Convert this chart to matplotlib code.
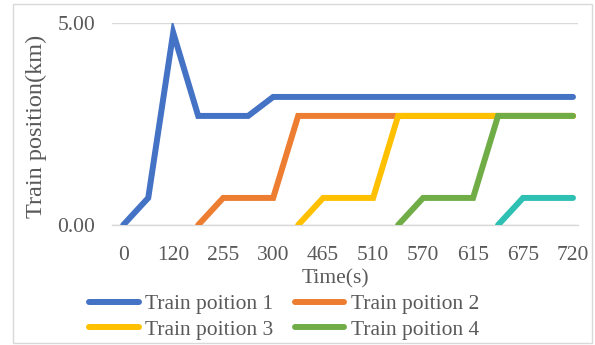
"""Train position over time, redrawn as an Excel-style category line chart."""

import matplotlib
matplotlib.use('Agg')
import matplotlib.pyplot as plt
from matplotlib.patches import Rectangle
import numpy as np

# 19 categories; only every second one carries a visible label
time_labels = ['0', '120', '255', '300', '465', '510', '570', '615', '675', '720']

train1 = [0, 0.67, 4.76, 2.70, 2.70, 2.70, 3.17, 3.17, 3.17, 3.17,
          3.17, 3.17, 3.17, 3.17, 3.17, 3.17, 3.17, 3.17, 3.17]
train2 = [None, None, None, 0, 0.67, 0.67, 0.67, 2.70, 2.70, 2.70,
          2.70, 2.70, 2.70, 2.70, 2.70, 2.70, 2.70, 2.70, 2.70]
train3 = [None, None, None, None, None, None, None, 0, 0.67, 0.67,
          0.67, 2.70, 2.70, 2.70, 2.70, 2.70, 2.70, 2.70, 2.70]
train4 = [None, None, None, None, None, None, None, None, None, None,
          None, 0, 0.67, 0.67, 0.67, 2.70, 2.70, 2.70, 2.70]
train5 = [None, None, None, None, None, None, None, None, None, None,
          None, None, None, None, None, 0, 0.67, 0.67, 0.67]

series_names = ['Train poition 1', 'Train poition 2',
                'Train poition 3', 'Train poition 4']
colors = ['#4472C4', '#ED7D31', '#FFC000', '#70AD47', '#2EC0B2']

TEXT = '#595959'
plt.rcParams['font.family'] = ['Liberation Serif', 'DejaVu Serif']
plt.rcParams['font.size'] = 15.5

fig = plt.figure(figsize=(5.95, 3.45), dpi=100)
ax = fig.add_axes([112 / 595, 1 - 225 / 345, 466 / 595, 202 / 345])

x = np.arange(len(train1))
all_series = [train1, train2, train3, train4, train5]
lines = []
for i, values in enumerate(all_series):
    y = np.array([np.nan if v is None else v for v in values], dtype=float)
    line, = ax.plot(x, y, color=colors[i], lw=4.3, solid_capstyle='round',
                    solid_joinstyle='miter', zorder=3 + i)
    lines.append(line)

ax.set_xlim(-0.45, 18.2)
ax.set_ylim(0, 5)
ax.set_yticks([0, 5])
ax.set_yticklabels(['0.00', '5.00'])
ax.set_xticks(x[::2])
ax.set_xticklabels(time_labels)
ax.tick_params(length=0, colors=TEXT, labelsize=15.5)
ax.tick_params(axis='y', pad=12)
ax.tick_params(axis='x', pad=15)
ax.grid(axis='y', color='#D9D9D9', lw=1)
ax.set_axisbelow(True)
for side in ['top', 'right', 'left']:
    ax.spines[side].set_visible(False)
ax.spines['bottom'].set_color('#D9D9D9')
ax.spines['bottom'].set_linewidth(1)
ax.spines['bottom'].set_zorder(1)

fig.text(36 / 595, 1 - 126 / 345, 'Train position(km)', rotation=90,
         ha='center', va='center', color=TEXT, fontsize=17.5)
fig.text(335 / 595, 1 - 279 / 345, 'Time(s)', ha='center', va='center',
         color=TEXT, fontsize=15.5)

# legend is filled column by column, so order handles to read row by row
order = [0, 2, 1, 3]
fig.legend([lines[k] for k in order], [series_names[k] for k in order],
           loc='center', bbox_to_anchor=(284 / 595, 1 - 317 / 345),
           ncol=2, frameon=False, fontsize=15.5, labelcolor=TEXT,
           handlelength=2.3, handletextpad=0.3, columnspacing=1.0,
           labelspacing=0.25, borderpad=0)

fig.patches.append(Rectangle((13 / 595, 2 / 345), 579 / 595, 339 / 345,
                             transform=fig.transFigure, fill=False,
                             edgecolor='#D9D9D9', lw=1))

fig.savefig('out.png', dpi=100, facecolor='white')
